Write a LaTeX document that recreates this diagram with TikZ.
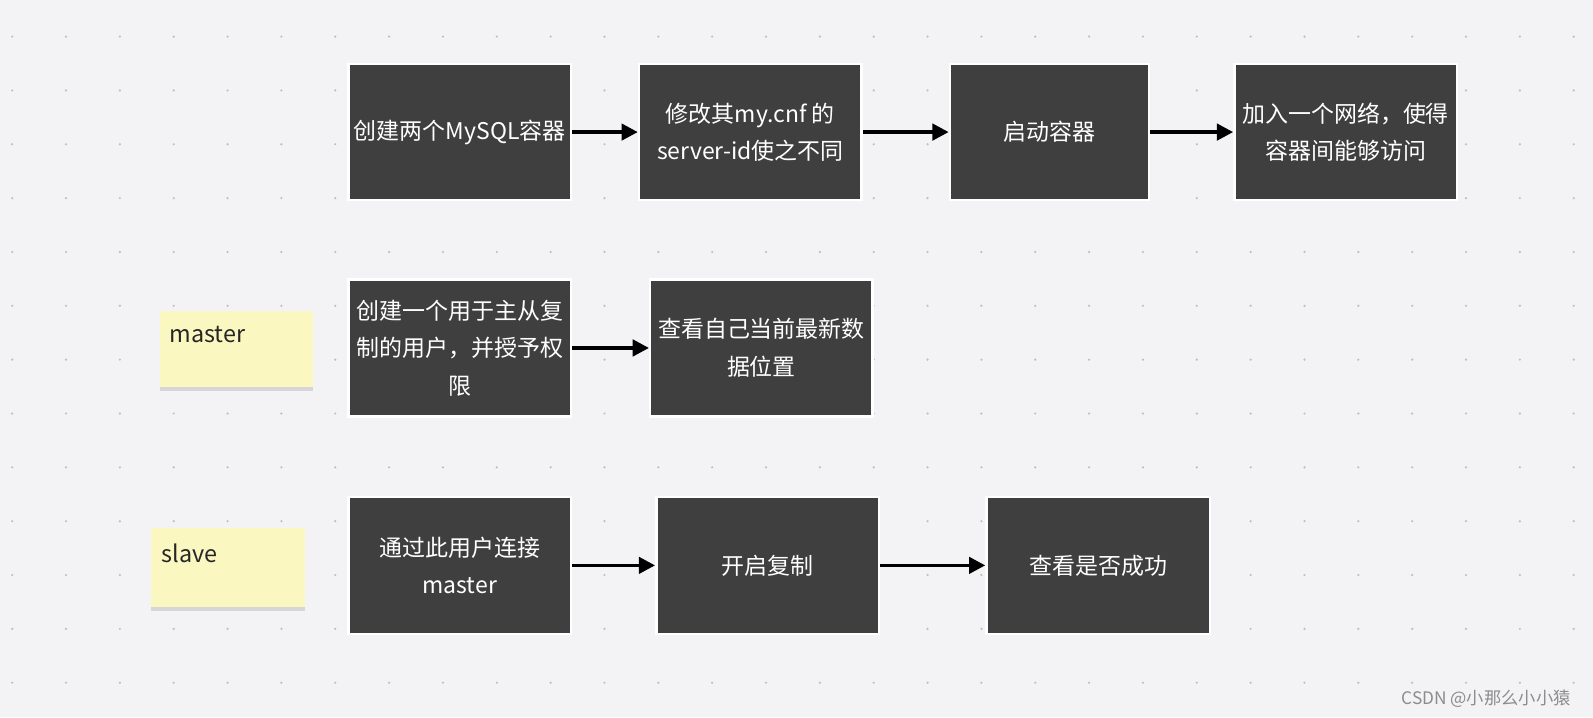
\documentclass[tikz,border=0pt]{standalone}
\usepackage{fontspec}
\newfontfamily\cjk{Noto Sans CJK SC}
\setmainfont{Noto Sans CJK SC}
\usetikzlibrary{arrows.meta,shadows}
\definecolor{bgc}{RGB}{243,243,246}
\definecolor{notec}{RGB}{250,248,192}
\definecolor{boxc}{RGB}{63,63,63}
\begin{document}
\begin{tikzpicture}[x=0.5pt,y=-0.5pt,
  box/.style={draw=white,line width=1.2pt,fill=boxc,text=white,font=\cjk\fontsize{11.3}{18.5}\selectfont,align=center,inner sep=0pt},
  note/.style={fill=notec,drop shadow={shadow xshift=0pt,shadow yshift=-2pt,opacity=0.25},inner sep=0pt},
  arr/.style={-{Triangle[length=8pt,width=8pt]},line width=1.8pt}]
\fill[bgc] (0,0) rectangle (1568,706);
\useasboundingbox (0,0) rectangle (1568,706);
\foreach \i in {0,...,30}{\foreach \j in {0,...,13}{\fill[black!25] (12+53*\i,36+53*\j) circle (1.2);}}
\newcommand\mybox[6]{\node[box,minimum width={(#3-#2)*0.5pt},minimum height={(#5-#4)*0.5pt}] (#1) at ({(#2+#3)/2},{(#4+#5)/2}) {#6};}
\mybox{a1}{343}{562}{63}{197}{创建两个MySQL容器}
\mybox{a2}{629}{848}{63}{197}{修改其my.cnf 的\\server-id使之不同}
\mybox{a3}{935}{1131}{63}{197}{启动容器}
\mybox{a4}{1215}{1434}{63}{197}{加入一个网络，使得\\容器间能够访问}
\mybox{b1}{343}{562}{275}{410}{创建一个用于主从复\\制的用户，并授予权\\限}
\mybox{b2}{640}{859}{275}{410}{查看自己当前最新数\\据位置}
\mybox{c1}{343}{562}{489}{624}{通过此用户连接\\master}
\mybox{c2}{646}{865}{489}{624}{开启复制}
\mybox{c3}{971}{1191}{489}{624}{查看是否成功}
\draw[arr] (a1) -- (a2); \draw[arr] (a2) -- (a3); \draw[arr] (a3) -- (a4);
\draw[arr] (b1) -- (b2);
\draw[arr] (c1) -- (c2); \draw[arr] (c2) -- (c3);
\node[note,minimum width=75.5pt,minimum height=37.5pt] (m) at (232.5,343.5) {};
\node[anchor=west,font=\fontsize{11.5}{13}\selectfont,text=black!85] (mt) at (160,329) {master};
\node[note,minimum width=75.5pt,minimum height=38.5pt] (s) at (224.5,558.5) {};
\node[anchor=west,font=\fontsize{11.5}{13}\selectfont,text=black!85] (st) at (152,545) {slave};
\node[anchor=east,font=\fontsize{8.5}{10}\selectfont,text=black!45] (w) at (1553,688) {CSDN @小那么小小猿};
\end{tikzpicture}
\end{document}
